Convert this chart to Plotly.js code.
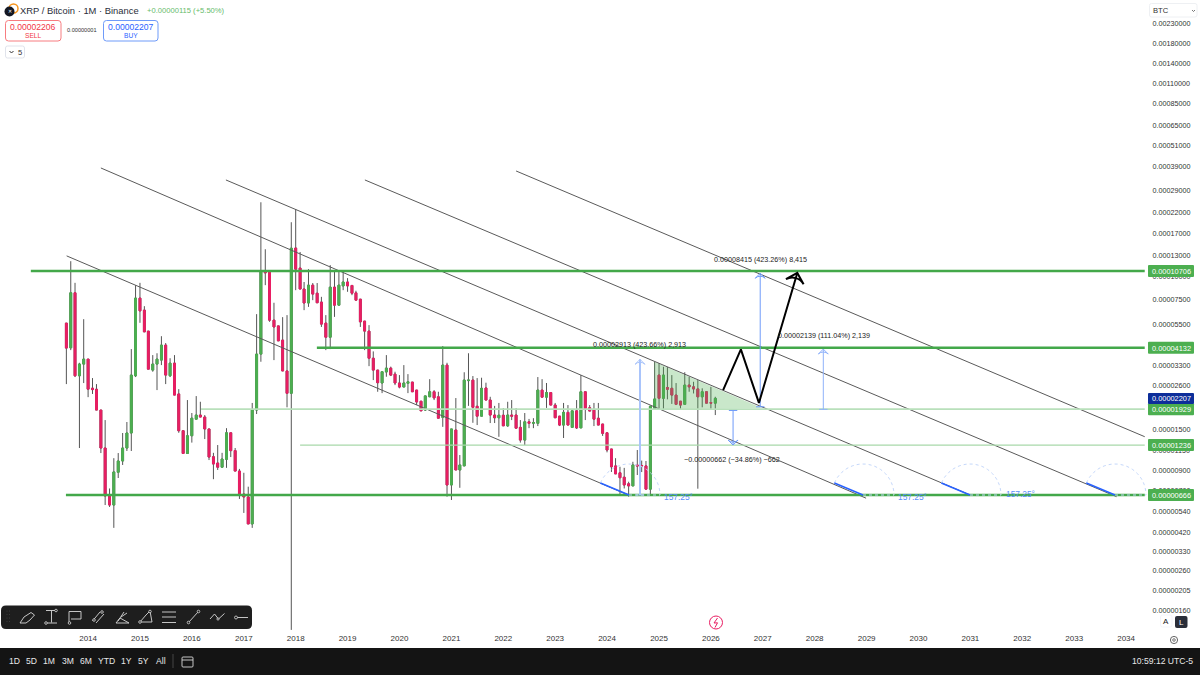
<!DOCTYPE html>
<html><head><meta charset="utf-8">
<script src="https://cdn.plot.ly/plotly-3.0.1.min.js"></script>
<style>html,body{margin:0;padding:0;background:#fff}#c{width:1200px;height:675px}</style></head>
<body><div id="c"></div>
<script>
// Prices are in satoshi (1e-8 BTC). One candle per month from 2013-08 to 2026-02.
const firstYear = 2013, firstMonth = 8;
const open = [5610,4130,8170,2920,3375,3590,2503,2470,1909,1192,658,588,883,1015,1192,1436,2920,7650,6588,5080,3133,3375,3546,4270,2920,3415,2330,1477,1115,1388,1705,1794,1750,1510,1070,990,940,1036,1440,1154,896,674,650,465,1909,3820,10700,10700,5820,5420,4543,3100,2350,14230,11100,8560,7200,8980,8130,7280,5610,4710,8760,7010,8900,9340,8950,8160,7550,5750,5080,3630,3133,2670,3060,3210,2980,2670,2540,2660,2700,2445,2130,1909,2250,2395,2250,1742,3333,754,1490,908,955,2750,2768,2000,1770,2510,2161,1794,1735,1790,1570,1794,1794,1540,1316,1650,1620,1620,2445,2240,2370,2031,1770,1585,1855,1540,1890,1530,2395,1965,1909,1725,1605,1440,1178,955,877,830,765,745,966,960,955,716,1950,2945,2210,2525,2500,2298,2130,2050,2601,2545,2480,2250,2395,2095,2080];
const high = [5610,12090,9244,3430,5890,3590,2838,2634,1909,1686,722,1051,1120,1436,1646,4065,8980,9244,6920,5080,3773,3860,4770,4380,3630,3773,2474,1490,2161,1840,2270,2115,1794,1510,1123,1237,1123,1525,1440,1192,920,877,738,2085,6270,25100,14020,10814,7220,5420,6040,6193,19600,23050,13550,9340,10950,9220,9220,7770,6193,11506,10814,10600,10600,9800,8980,8380,7550,5750,5471,3950,3133,3070,3773,3270,3070,2945,3333,2980,2700,2445,2130,2275,2800,2445,2395,4220,3430,1510,2215,1093,3050,3860,2910,2838,2850,2680,2250,2010,2085,1955,2115,2161,1955,1686,1840,1710,1726,2874,2800,2670,2370,2085,1770,2085,2031,1890,2161,2945,2395,2031,2085,2085,1605,1440,1178,1051,945,932,785,1005,1163,1020,1015,2000,3470,3415,3265,3250,2945,2668,2130,3050,2885,2710,2768,2500,2395,2545,2250];
const low = [2634,4014,2874,1192,2668,2240,2330,1909,1120,588,574,443,822,966,1149,1149,2874,5630,5020,3170,3070,2445,3333,2634,2874,2298,1440,1115,1115,1275,1705,1750,1332,1027,810,908,940,932,1066,896,634,533,465,443,1817,3475,8980,5700,3546,4500,3100,1975,125,8441,8560,6588,6860,7458,7220,5350,4014,4065,6060,7010,8441,8270,7934,7458,5350,4014,3290,2768,2395,2355,2885,2910,2601,2500,2540,2355,2395,2031,1890,1890,2250,2161,1726,1550,652,626,908,728,955,2010,1630,1585,1770,2161,1625,1625,1370,1570,1550,1686,1525,1275,1237,1525,1525,1565,2240,1960,2031,1735,1565,1350,1585,1540,1510,1530,1686,1885,1565,1585,1385,1130,886,865,674,722,652,745,853,885,716,666,1925,1950,1930,2180,2060,2031,1930,2050,2395,2345,720,1975,2080,1925,1794];
const close = [4116,8170,2920,3375,3590,2474,2460,1909,1192,658,588,886,1015,1192,1436,2945,7650,6530,5035,3170,3375,3590,4270,2945,3415,2298,1477,1115,1388,1726,1794,1750,1510,1066,978,940,1040,1440,1154,896,666,650,465,1909,3820,10600,10460,5820,5350,4500,3100,2350,14200,10950,8560,7200,8980,8040,7220,5540,4710,8760,7010,8980,9340,8900,8130,7458,5700,5080,3630,3133,2680,3070,3210,2945,2670,2540,2670,2710,2395,2110,1890,2275,2395,2220,1726,3333,754,1510,908,966,2768,2768,1975,1770,2500,2161,1794,1735,1790,1570,1794,1770,1525,1316,1650,1620,1635,2445,2240,2370,2031,1735,1585,1855,1585,1890,1530,2395,1950,1885,1705,1585,1430,1163,945,865,825,754,745,966,955,955,716,2000,2190,2210,2945,2470,2298,2050,2031,2601,2545,2480,2250,2395,2080,2080,2207];

const yTickValues = [230000,180000,140000,110000,85000,65000,51000,39000,29000,22000,17000,13000,10000,7500,5500,4000,3300,2600,2000,1500,1150,900,700,540,420,330,260,205,160];
const xTickYears = [2014,2015,2016,2017,2018,2019,2020,2021,2022,2023,2024,2025,2026,2027,2028,2029,2030,2031,2032,2033,2034];
const levelLabels = [10706,4132,1929,1236,666];

// chart drawings, in date and price
const END = '2034-05-12';
const channels = [
  [['2013-08-03','2024-06-10'],[12910,660]],
  [['2014-04-01','2028-12-28'],[38400,640]],
  [['2016-08-28','2030-12-30'],[33100,666]],
  [['2019-05-03','2033-10-26'],[33100,652]],
  [['2022-04-01',END],[37000,1372]]
];
const levels = [
  {from:'2012-11-24',price:10706,color:'#43a84a',w:2.6},
  {from:'2018-05-30',price:4132,color:'#43a84a',w:2.3},
  {from:'2016-03-06',price:1929,color:'#b9e0bb',w:1.8},
  {from:'2018-02-01',price:1236,color:'#a8d8aa',w:1.2},
  {from:'2013-07-29',price:666,color:'#43a84a',w:2.6}
];
const wedgeDates = ['2024-11-28','2024-11-28','2026-12-26','2024-11-28'];
const wedgePrices = [3475,1925,1960,3475];
const measures = [
  {date:'2024-08-20',from:666,to:3579,color:'#a9c4fb',w:2},
  {date:'2026-06-06',from:1899,to:1237,color:'#6f9bf9',w:1},
  {date:'2026-12-14',from:1988,to:10403,color:'#6f9bf9',w:1},
  {date:'2028-03-02',from:1926,to:4065,color:'#8fb2fb',w:1}
];
const pathDates = ['2026-03-28','2026-07-31','2026-12-05','2027-09-01'];
const pathPrices = [2445,4050,2085,10450];

const months = open.map((_,i)=>{
  const t = firstYear*12 + firstMonth-1 + i;
  return Math.floor(t/12)+'-'+String(t%12+1).padStart(2,'0')+'-01';
});
const GREEN='#4caf50', RED='#e91e63', SANS='"Liberation Sans", Arial, sans-serif';
const W=1145, H=632;
const px=x=>x/W, py=y=>1-y/H;
const traces=[];

traces.push({type:'candlestick',x:months,open:open,high:high,low:low,close:close,hoverinfo:'skip',showlegend:false,whiskerwidth:0,
  increasing:{line:{color:'#555',width:1},fillcolor:'#555'},decreasing:{line:{color:'#555',width:1},fillcolor:'#555'}});
traces.push({type:'candlestick',x:months,open:open,close:close,
  high:open.map((o,i)=>Math.max(o,close[i])),low:open.map((o,i)=>Math.min(o,close[i])),hoverinfo:'skip',showlegend:false,whiskerwidth:0,
  increasing:{line:{color:GREEN,width:1},fillcolor:GREEN},decreasing:{line:{color:RED,width:1},fillcolor:RED}});

traces.push({type:'scatter',mode:'lines',x:wedgeDates,y:wedgePrices,fill:'toself',fillcolor:'rgba(76,175,80,0.30)',line:{width:0},hoverinfo:'skip',showlegend:false});
channels.forEach(c=>traces.push({type:'scatter',mode:'lines',x:c[0],y:c[1],line:{color:'#5a5a5a',width:1},hoverinfo:'skip',showlegend:false}));
levels.forEach(l=>traces.push({type:'scatter',mode:'lines',x:[l.from,END],y:[l.price,l.price],line:{color:l.color,width:l.w},hoverinfo:'skip',showlegend:false}));
measures.forEach(m=>{
  traces.push({type:'scatter',mode:'lines',x:[m.date,m.date],y:[m.from,m.to],line:{color:m.color,width:m.w},hoverinfo:'skip',showlegend:false});
  traces.push({type:'scatter',mode:'markers',x:[m.date],y:[m.to],hoverinfo:'skip',showlegend:false,
    marker:{symbol:'arrow-wide-open',size:7,angle:m.to>m.from?0:180,color:m.color,line:{color:m.color,width:1}}});
  traces.push({type:'scatter',mode:'markers',x:[m.date],y:[m.from],hoverinfo:'skip',showlegend:false,
    marker:{symbol:'line-ew-open',size:6,color:m.color,line:{color:m.color,width:1}}});
});
traces.push({type:'scatter',mode:'lines',x:pathDates,y:pathPrices,line:{color:'#000',width:2},hoverinfo:'skip',showlegend:false});
traces.push({type:'scatter',mode:'markers',x:[pathDates[3]],y:[pathPrices[3]],hoverinfo:'skip',showlegend:false,
  marker:{symbol:'arrow-wide-open',size:13,angle:16,color:'#000',line:{color:'#000',width:2}}});

// page furniture
const shapes=[], anns=[];
const line=(pts,color,w,dash)=>shapes.push({type:'path',xref:'paper',yref:'paper',layer:'above',
  path:'M'+pts.map(p=>px(p[0])+','+py(p[1])).join('L'),line:{color:color,width:w,dash:dash||'solid'}});
const rrect=(x0,y0,x1,y1,r,fill,stroke,w)=>shapes.push({type:'path',xref:'paper',yref:'paper',layer:'above',fillcolor:fill,
  line:{color:stroke||fill,width:stroke?(w||1):0},
  path:`M${px(x0+r)},${py(y0)}L${px(x1-r)},${py(y0)}Q${px(x1)},${py(y0)} ${px(x1)},${py(y0+r)}L${px(x1)},${py(y1-r)}Q${px(x1)},${py(y1)} ${px(x1-r)},${py(y1)}L${px(x0+r)},${py(y1)}Q${px(x0)},${py(y1)} ${px(x0)},${py(y1-r)}L${px(x0)},${py(y0+r)}Q${px(x0)},${py(y0)} ${px(x0+r)},${py(y0)}Z`});
const dot=(x,y,r,fill,stroke,w)=>shapes.push({type:'circle',xref:'paper',yref:'paper',layer:'above',x0:px(x-r),x1:px(x+r),y0:py(y+r),y1:py(y-r),fillcolor:fill,line:{color:stroke||fill,width:stroke?(w||1):0}});
const text=(x,y,t,size,color,anchor,extra)=>anns.push(Object.assign({xref:'paper',yref:'paper',x:px(x),y:py(y),text:t,showarrow:false,xanchor:anchor||'left',yanchor:'middle',borderpad:0,font:{family:SANS,size:size,color:color}},extra||{}));

// angle tools
[[629,'#2962ff'],[863,'#2962ff'],[970,'#2962ff'],[1115,'#2962ff']].forEach(v=>{
  const cx=v[0], cy=495, r=31, pts=[];
  for(let a=157.25;a>=0;a-=6) pts.push([cx+r*Math.cos(a*Math.PI/180),cy-r*Math.sin(a*Math.PI/180)]);
  pts.push([cx+r,cy]);
  line(pts,'#c5d8fb',1,'dot');
  line([[cx,cy],[cx+r,cy]],'#c5d8fb',1,'dot');
  line([[cx-28.6,cy-12],[cx,cy]],v[1],1.6);
});
text(678.5,497,'157.25°',8.4,'#5b8ff9','center');
text(912,497,'157.25°',8.4,'#5b8ff9','center');
text(1020,494,'157.25°',8.4,'#5b8ff9','center');

// measure labels
text(760.5,259,'0.00008415 (423.26%) 8,415',7.2,'#222','center');
text(823.5,335,'0.00002139 (111.04%) 2,139',7.2,'#222','center');
text(639.5,344,'0.00002913 (423.66%) 2,913',7.2,'#222','center');
text(732,459,'−0.00000662 (−34.86%) −662',7.2,'#222','center');

// price labels
levelLabels.forEach(v=>{
  const y=271+(Math.log10(10706)-Math.log10(v))*185.7;
  rrect(1148,y-6,1194,y+6,1,GREEN);
  text(1171,y+0.3,(v*1e-8).toFixed(8),7.4,'#fff','center');
});
rrect(1148,393,1194,404,1,'#0d2e9a');
text(1171,398.8,(close[close.length-1]*1e-8).toFixed(8),7.4,'#fff','center');

// header
dot(13.5,8.5,4.5,'#fff','#f7931a',1.5);
dot(9.5,11.5,5,'#131722');
text(9.5,11.5,'✕',5,'#fff','center');
text(19,10.5,'XRP / Bitcoin · 1M · Binance',9.4,'#2a2e39');
text(146,10.5,'+0.00000115 (+5.50%)',7.6,'#66bb6a');
rrect(5.5,20.5,61,41,3,'#fff','#f77c80',1);
text(33,27,'0.00002206',8.6,'#f23645','center');
text(33,35.5,'SELL',6.6,'#f23645','center');
text(66,30,'0.00000001',5.6,'#333');
rrect(103.5,20.5,158,41,3,'#fff','#6f9bf9',1);
text(131,27,'0.00002207',8.6,'#2962ff','center');
text(131,35.5,'BUY',6.6,'#2962ff','center');
rrect(5.5,46,24.5,58,2,'#fff','#e0e3eb',1);
line([[9.5,51],[11.5,53],[13.5,51]],'#333',1);
text(17,52.5,'5',7.6,'#333');
rrect(1149.5,3.5,1197,17,2,'#fff','#eef0f3',1);
text(1152,10.5,'BTC',7.6,'#333');
line([[1192,10],[1193.5,11.5],[1195,10]],'#555',0.8);

// drawing toolbar
rrect(1,605.5,252,629,5,'#1e1e1e');
[[7,611],[9.5,611],[7,614.5],[9.5,614.5],[7,618],[9.5,618],[7,621.5],[9.5,621.5]].forEach(p=>dot(p[0],p[1],0.45,'#555'));
const IC='#d8d8d8';
line([[20,623],[24,617],[31,612.5],[34.5,615],[30,620],[26,623],[20,623]],IC,0.9);
line([[46,610.5],[57,610.5]],IC,0.9); line([[51.5,610.5],[51.5,622.5]],IC,0.9); line([[46,623],[57,623]],IC,0.9);
dot(46,623,1.3,'#1e1e1e',IC,0.8); dot(56,610.5,1.3,'#1e1e1e',IC,0.8);
line([[69,622],[69,611.5],[81,611.5],[81,619],[71,619]],IC,0.9); dot(69.5,623,1.3,'#1e1e1e',IC,0.8);
line([[92.5,621],[100,612]],IC,0.9); line([[96,623],[104,614]],IC,0.9); dot(94,620,1.3,'#1e1e1e',IC,0.8); dot(102,612,1.3,'#1e1e1e',IC,0.8);
line([[116,623],[129,623],[120,618],[116,623]],IC,0.9); line([[118,621],[124,612]],IC,0.9); line([[121,617],[127,613]],IC,0.9);
line([[140,622],[146,615],[150,611],[152,622],[140,622]],IC,0.9); dot(150,611.5,1.3,'#1e1e1e',IC,0.8); dot(140,622,1.3,'#1e1e1e',IC,0.8);
[612,617,622.5].forEach(y=>line([[162,y],[176,y]],IC,0.9));
line([[189,622],[198,612]],IC,0.9); dot(188.5,622.5,1.3,'#1e1e1e',IC,0.8); dot(198.5,611.5,1.3,'#1e1e1e',IC,0.8);
line([[210,619],[214.5,614],[218.5,619],[224.5,613.5]],IC,0.9); dot(218,619,1.1,'#1e1e1e',IC,0.8);
line([[237,617.5],[248,617.5]],IC,0.9); dot(236,617.5,1.5,'#1e1e1e',IC,0.8);

// bottom bar
shapes.push({type:'rect',xref:'paper',yref:'paper',layer:'above',x0:0,x1:1200/W,y0:py(675),y1:py(648),fillcolor:'#141414',line:{width:0}});
[['1D',14],['5D',31],['1M',49],['3M',67.5],['6M',85.5],['YTD',106],['1Y',126],['5Y',143.5],['All',160.5]].forEach(b=>text(b[1],661,b[0],8.6,'#e8e8e8','center'));
line([[173,654],[173,668]],'#444',1);
rrect(182,657,193,667,1,'rgba(0,0,0,0)','#d8d8d8',0.9);
line([[182,660],[193,660]],'#d8d8d8',0.9);
text(1194,661,'10:59:12 UTC-5',8.6,'#e8e8e8','right');

// lower right controls
rrect(1160.5,615,1172,627,2,'#fff','#f0f3fa',0.8);
text(1166,621.5,'A',8,'#131722','center');
rrect(1175,616,1187.5,628,2,'#2a2e39');
text(1181,622,'L',8,'#fff','center');
dot(1174,640,3.6,'#fff','#555',0.9); dot(1174,640,1.3,'#fff','#555',0.8);

// logo badge
dot(716,622.5,6.5,'#fff','#e91e63',1);
line([[717.5,618],[714,623],[717.5,622.8],[715,627.5]],'#e91e63',1);

const layout={
  width:1200,height:675,paper_bgcolor:'#fff',plot_bgcolor:'#fff',showlegend:false,
  margin:{l:0,r:55,t:0,b:43,pad:0},boxgap:0.32,boxmode:'overlay',
  xaxis:{type:'date',range:['2012-04-21','2034-05-14'],tickmode:'array',
    tickvals:xTickYears.map(y=>y+'-01-01'),ticktext:xTickYears.map(String),
    showgrid:false,zeroline:false,showline:false,ticks:'',rangeslider:{visible:false},fixedrange:true,
    tickfont:{family:SANS,size:8,color:'#333'}},
  yaxis:{type:'log',side:'right',range:[2.0856,5.4889],tickmode:'array',
    tickvals:yTickValues,ticktext:yTickValues.map(v=>(v*1e-8).toFixed(8)),
    showgrid:false,zeroline:false,showline:false,ticks:'outside',ticklen:5,tickcolor:'rgba(0,0,0,0)',fixedrange:true,
    tickfont:{family:SANS,size:7.2,color:'#333'}},
  shapes:shapes,annotations:anns
};
Plotly.newPlot('c',traces,layout,{displayModeBar:false,staticPlot:true});
</script></body></html>
